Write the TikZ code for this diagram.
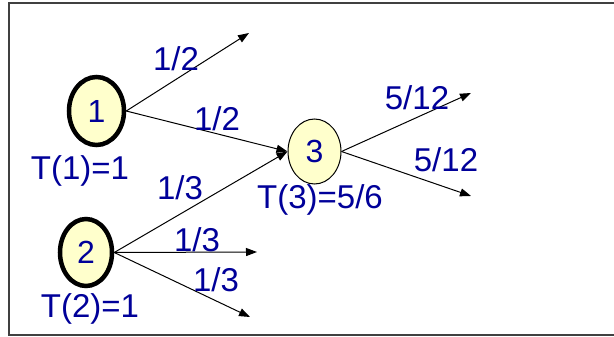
\documentclass[tikz,border=0pt]{standalone}
\usepackage{fontspec}
\setmainfont{Liberation Sans}
\usetikzlibrary{arrows.meta,shapes.geometric}
\definecolor{lbl}{RGB}{0,0,153}
\definecolor{nfill}{RGB}{255,255,204}
\begin{document}
\begin{tikzpicture}[x=1pt,y=-1pt,
  lab/.style={text=lbl,font=\fontsize{33}{33}\selectfont,inner sep=0pt},
  nd/.style={ellipse,draw=black,fill=nfill,text=lbl,font=\fontsize{32}{32}\selectfont,inner sep=0pt},
  thick node/.style={line width=4.5pt},
  arr/.style={-{Triangle[length=11pt,width=8pt]},line width=1pt}]
\useasboundingbox (0,0) rectangle (614,337);
\draw[line width=1.5pt,draw=black!75] (616,3) -- (9,3) -- (9,335) -- (616,335);
\node[nd,thick node,minimum width=55pt,minimum height=68pt] (n1) at (96.5,111) {1};
\node[nd,thick node,minimum width=52pt,minimum height=67pt] (n2) at (86,252.5) {2};
\node[nd,line width=1pt,minimum width=53pt,minimum height=65pt] (n3) at (314.5,151.5) {3};
\coordinate (e1) at (249,33);
\coordinate (e2) at (257,252);
\coordinate (e3) at (250,317);
\coordinate (e4) at (471,93);
\coordinate (e5) at (471,196);
\draw[arr] (n1.east) -- (e1);
\draw[arr] (n1.east) -- (n3.west);
\draw[arr] (n2.east) -- (n3.west);
\draw[arr] (n2.east) -- (e2);
\draw[arr] (n2.east) -- (e3);
\draw[arr] (n3.east) -- (e4);
\draw[arr] (n3.east) -- (e5);
\node[lab] (l1) at (176,59) {1/2};
\node[lab] (l2) at (217,119) {1/2};
\node[lab] (t1) at (80,171) {T(1)=1};
\node[lab] (l3) at (180,188) {1/3};
\node[lab] (l4) at (197,240) {1/3};
\node[lab] (l5) at (216,280) {1/3};
\node[lab] (t2) at (90,309) {T(2)=1};
\node[lab] (t3) at (320,200) {T(3)=5/6};
\node[lab] (l6) at (417,98) {5/12};
\node[lab] (l7) at (446,160) {5/12};
\end{tikzpicture}
\end{document}
